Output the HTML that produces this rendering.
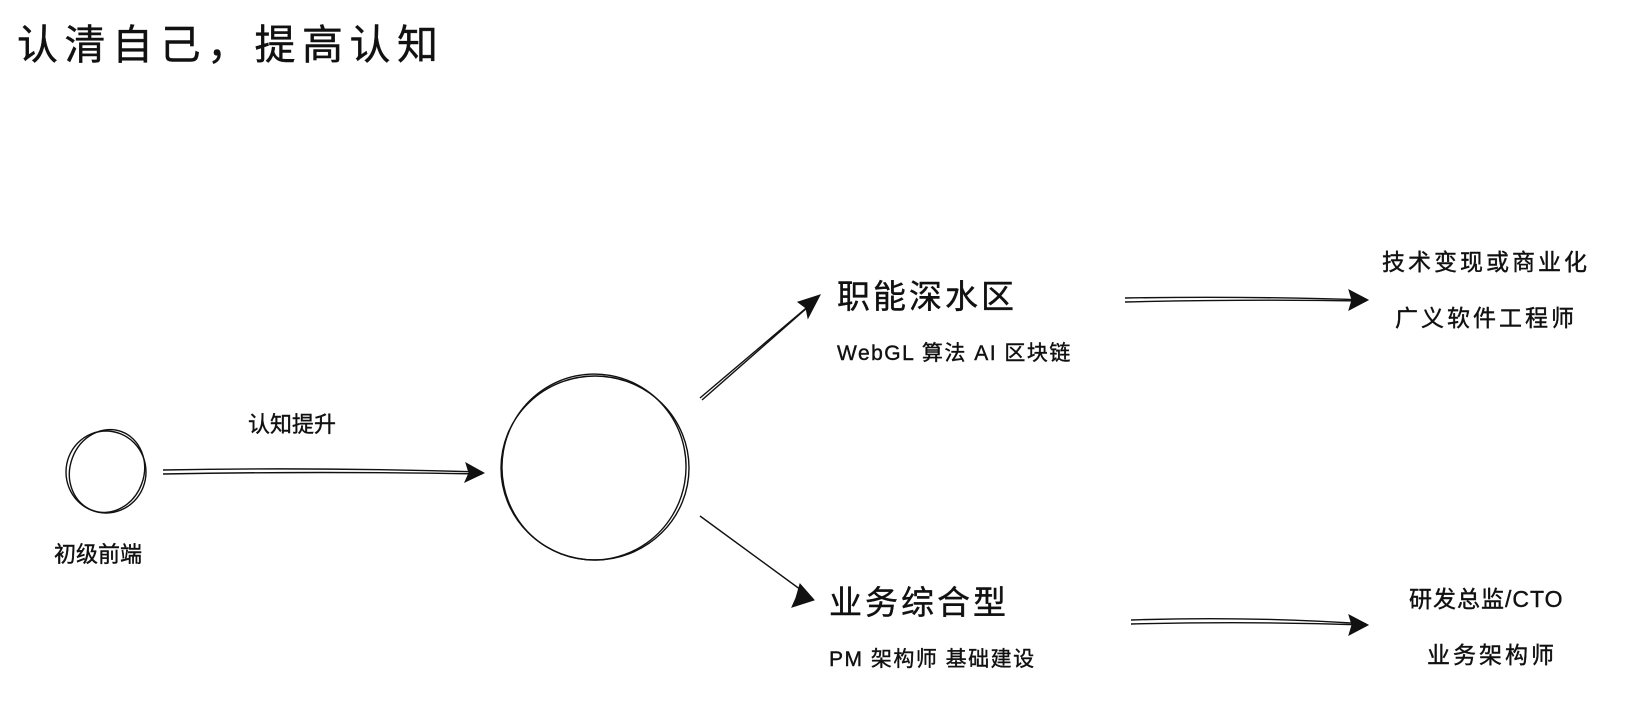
<!DOCTYPE html>
<html><head><meta charset="utf-8"><style>
html,body{margin:0;padding:0;background:#fff;width:1638px;height:718px;overflow:hidden}
svg{display:block}
text{font-family:"Liberation Sans","Noto Sans CJK SC",sans-serif;fill:#111;stroke:#111;stroke-width:0.4}
</style></head><body>
<svg width="1638" height="718" viewBox="0 0 1638 718" xmlns="http://www.w3.org/2000/svg">
<text x="17" y="59" font-size="41" letter-spacing="6.5" stroke-width="1.1">认清自己，提高认知</text>

<g fill="none" stroke="#111" stroke-width="1.4">
<ellipse cx="106" cy="472" rx="40" ry="41"/>
<ellipse cx="107" cy="471" rx="37" ry="42" transform="rotate(20 107 471)"/>
<ellipse cx="595" cy="468" rx="94" ry="92"/>
<ellipse cx="594" cy="467" rx="92" ry="93" transform="rotate(10 594 467)"/>
<path d="M163 470 Q320 467 482 472"/>
<path d="M163 474 Q320 471 482 474"/>
<path d="M700 398 L818 298"/>
<path d="M702 400 L816 300"/>
<path d="M700 516 L812 598"/>
<path d="M1125 298 Q1250 296 1366 300"/>
<path d="M1125 302 Q1250 299 1366 301"/>
<path d="M1131 620 Q1250 616 1366 624"/>
<path d="M1131 624 Q1250 621 1366 625"/>
</g>
<g fill="#111" stroke="#111" stroke-width="1">
<polygon points="484,473 466,463 469,473 465,482"/>
<polygon points="820,295 798,302 806,308 808,318"/>
<polygon points="814,600 800,584 796,598 792,607"/>
<polygon points="1368,300 1349,290 1352,300 1349,310"/>
<polygon points="1368,625 1349,615 1352,625 1349,635"/>
</g>

<text x="54" y="562" font-size="22">初级前端</text>
<text x="248" y="432" font-size="22">认知提升</text>

<text x="837" y="308" font-size="33" letter-spacing="3" stroke-width="0.9">职能深水区</text>
<text x="837" y="360" font-size="21" letter-spacing="1.5">WebGL 算法 AI 区块链</text>
<text x="829" y="614" font-size="33" letter-spacing="3" stroke-width="0.9">业务综合型</text>
<text x="829" y="666" font-size="21" letter-spacing="1.5">PM 架构师 基础建设</text>

<text x="1382" y="270" font-size="23" letter-spacing="3">技术变现或商业化</text>
<text x="1395" y="326" font-size="23" letter-spacing="3">广义软件工程师</text>
<text x="1409" y="607" font-size="23" letter-spacing="1">研发总监/CTO</text>
<text x="1427" y="663" font-size="23" letter-spacing="3">业务架构师</text>
</svg>
</body></html>
